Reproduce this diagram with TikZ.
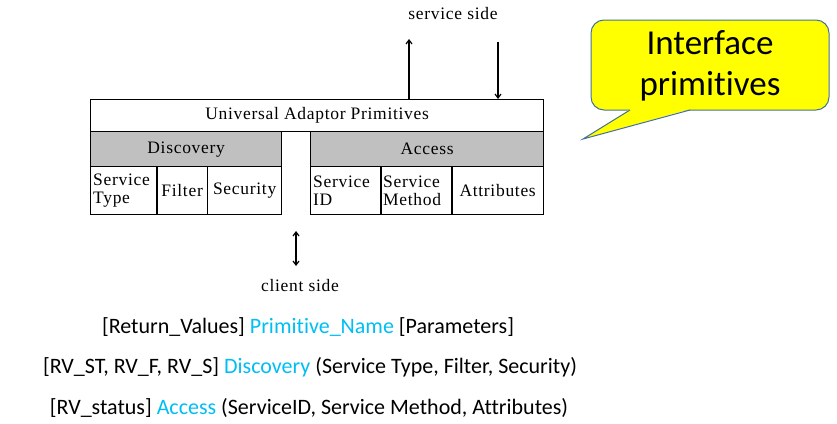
\documentclass[tikz,border=0pt]{standalone}
\usepackage{fontspec}
\setmainfont{Liberation Serif}
\newfontfamily\calib[Ligatures=NoCommon]{Carlito}
\usetikzlibrary{arrows.meta}
\definecolor{hdrgray}{RGB}{192,192,192}
\definecolor{callyel}{RGB}{255,255,0}
\definecolor{callbord}{RGB}{65,113,156}
\definecolor{primblue}{RGB}{0,190,245}
\tikzset{
  cell/.style={draw=black, line width=1.3pt, anchor=north west, inner sep=0pt, font=\fontsize{17.5}{18}\selectfont\addfontfeature{LetterSpace=4}},
  hdr/.style={cell, fill=hdrgray},
  lab/.style={font=\fontsize{17.5}{18}\selectfont\addfontfeature{LetterSpace=4}, inner sep=0pt},
  arr/.style={line width=1.2pt, -{Straight Barb[length=4pt,width=6pt]}},
  darr/.style={line width=1.2pt, {Straight Barb[length=4pt,width=6pt]}-{Straight Barb[length=4pt,width=6pt]}},
  calltext/.style={font=\calib\fontsize{35}{41}\selectfont, align=center, inner sep=0pt},
  formula/.style={font=\calib\fontsize{22}{24}\selectfont, inner sep=0pt}
}
\begin{document}
\begin{tikzpicture}[x=1pt,y=-1pt]
\useasboundingbox (0,0) rectangle (837,423);
% top box
\node[cell, minimum width=453pt, minimum height=32pt] (uap) at (90,99) {Universal Adaptor Primitives};
% discovery
\node[hdr, minimum width=191pt, minimum height=35pt] (disc) at (90,131) {Discovery};
\node[hdr, minimum width=233pt, minimum height=35pt] (acc) at (310,131) {Access};
% discovery sub cells
\node[cell, minimum width=66pt, minimum height=48pt, align=left, text width=62pt, inner xsep=2.5pt] (st) at (90,166) {Service\\Type};
\node[cell, minimum width=51pt, minimum height=48pt] (fil) at (156,166) {Filter};
\node[cell, minimum width=74pt, minimum height=48pt] (sec) at (207,166) {Security};
% access sub cells
\node[cell, minimum width=70pt, minimum height=48pt, align=left, text width=66pt, inner xsep=2.5pt] (sid) at (310,166) {Service\\ID};
\node[cell, minimum width=71pt, minimum height=48pt, align=left, text width=67pt, inner xsep=2.5pt] (sm) at (380,166) {Service\\Method};
\node[cell, minimum width=92pt, minimum height=48pt] (att) at (451,166) {Attributes};
% arrows
\node[lab] (sside) at (453,14) {service side};
\coordinate (upend) at (409,39);
\coordinate (dnstart) at (498,42);
\draw[arr] (uap.north -| upend) -- (upend);
\draw[arr] (dnstart) -- (dnstart |- uap.north);
\coordinate (ca) at (296,231);
\coordinate (cb) at (296,266);
\draw[darr] (ca) -- (cb);
\node[lab] (cside) at (300,286) {client side};
% callout
\draw[callbord, fill=callyel, line width=1pt, rounded corners=13pt] (591,20) rectangle (829,110);
\fill[callyel] (630,109.2) -- (583,139) -- (690,109.2) -- cycle;
\draw[callbord, line width=1pt] (630,110) -- (583,139) -- (690,110);
\node[calltext] (ctext) at (710,66) {Interface\\primitives};
% formulas
\node[formula] (f1) at (308,327) {[Return\_Values] \textcolor{primblue}{Primitive\_Name} [Parameters]};
\node[formula] (f2) at (310,367) {[RV\_ST, RV\_F, RV\_S] \textcolor{primblue}{Discovery} (Service Type, Filter, Security)};
\node[formula] (f3) at (309,408) {[RV\_status] \textcolor{primblue}{Access} (ServiceID, Service Method, Attributes)};
\end{tikzpicture}
\end{document}
